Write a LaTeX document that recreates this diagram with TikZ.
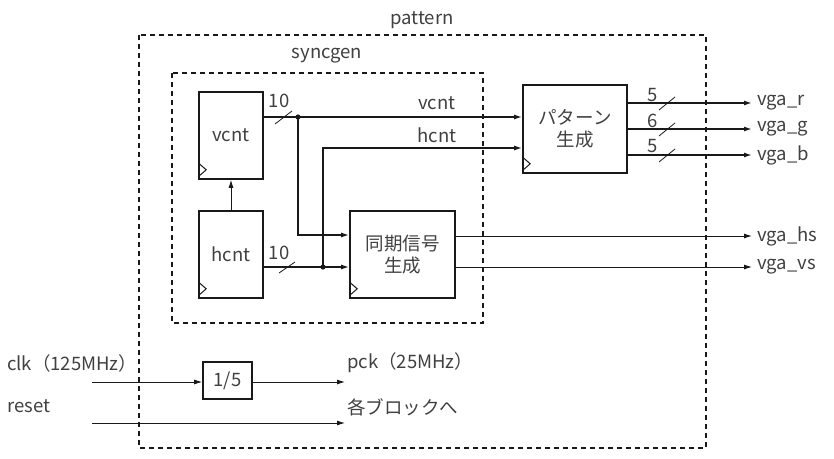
\documentclass[tikz,border=0pt]{standalone}
\usepackage{fontspec}
\setmainfont{Noto Sans CJK JP}
\usetikzlibrary{arrows.meta,calc}
\begin{document}
\begin{tikzpicture}[x=1pt,y=-1pt,
  font=\fontsize{18.5}{22}\selectfont,
  txt/.style={text=black!75,inner sep=0pt},
  blk/.style={draw=black!90,line width=1.6pt,inner sep=0pt,text=black!75,align=center},
  frame/.style={draw=black!90,line width=1.4pt,dash pattern=on 5pt off 4pt},
  bus/.style={draw=black!90,line width=1.5pt},
  sig/.style={draw=black!90,line width=0.9pt},
  arr/.style={-{Latex[length=8pt,width=5pt]}},
  slash/.style={draw=black!90,line width=0.8pt},
  clkmark/.style={draw=black!90,line width=1pt}]
\useasboundingbox (0,0) rectangle (834,458);
% frames
\draw[frame] (139,35) rectangle (706,448);
\draw[frame] (172,73) rectangle (483,323);
\node[txt] (lpattern) at (422,20) {pattern};
\node[txt] (lsyncgen) at (327,56) {syncgen};
% blocks
\node[blk,minimum width=64pt,minimum height=87pt] (vcnt) at (231,135.5) {vcnt};
\node[blk,minimum width=64pt,minimum height=87pt] (hcnt) at (231,254.5) {hcnt};
\node[blk,minimum width=105pt,minimum height=87pt] (sync) at (402.5,254.5) {同期信号\\生成};
\node[blk,minimum width=104pt,minimum height=88pt] (pgen) at (575,129) {パターン\\生成};
\node[blk,minimum width=49pt,minimum height=37pt] (div) at (227.5,380.5) {1/5};
% clock marks
\foreach \b in {vcnt,hcnt,sync,pgen}{
  \draw[clkmark] ($(\b.south west)+(0,-17)$) -- ++(8,7) -- ++(-8,7);
}
% level coordinates
\coordinate (dv) at (298,117);
\coordinate (dh) at (323,267);
\coordinate (ya) at (0,235);
\coordinate (yh) at (0,148);
\coordinate (yr) at (0,103);
\coordinate (yg) at (0,129);
\coordinate (yb) at (0,155);
\coordinate (yhs) at (0,236);
\coordinate (yvs) at (0,267);
\coordinate (xe) at (752,0);
% hcnt -> vcnt
\draw[sig,arr] (hcnt.north) -- (vcnt.south);
% vcnt bus
\draw[bus] (vcnt.east |- dv) -- (dv);
\draw[bus,arr] (dv) -- (pgen.west |- dv);
\draw[bus,arr] (dv) |- (sync.west |- ya);
\fill[black!90] (dv) circle (2.6pt);
% hcnt bus
\draw[bus] (hcnt.east |- dh) -- (dh);
\draw[bus,arr] (dh) -- (sync.west |- dh);
\draw[bus,arr] (dh) |- (pgen.west |- yh);
\fill[black!90] (dh) circle (2.6pt);
% slashes and widths
\draw[slash] (275,124) -- (292,111);
\draw[slash] (279,273) -- (295,262);
\node[txt] (w1) at (279,101) {10};
\node[txt] (w2) at (279,253) {10};
\node[txt] (lvcnt) at (437,103) {vcnt};
\node[txt] (lhcnt) at (437,135) {hcnt};
% pattern outputs
\coordinate (or) at (xe |- yr);
\coordinate (og) at (xe |- yg);
\coordinate (ob) at (xe |- yb);
\draw[bus,arr] (pgen.east |- yr) -- (or);
\draw[bus,arr] (pgen.east |- yg) -- (og);
\draw[bus,arr] (pgen.east |- yb) -- (ob);
\foreach \y in {103,129,155}{\draw[slash] (659,\y+7) -- (675,\y-6);}
\node[txt] (w3) at (653,95) {5};
\node[txt] (w4) at (653,121) {6};
\node[txt] (w5) at (653,146) {5};
\node[txt,anchor=west] (lr) at ([xshift=5pt]or) {vga\_r};
\node[txt,anchor=west] (lg) at ([xshift=5pt]og) {vga\_g};
\node[txt,anchor=west] (lb) at ([xshift=5pt]ob) {vga\_b};
% sync outputs
\coordinate (ohs) at (xe |- yhs);
\coordinate (ovs) at (xe |- yvs);
\draw[sig,arr] (sync.east |- yhs) -- (ohs);
\draw[sig,arr] (sync.east |- yvs) -- (ovs);
\node[txt,anchor=west] (lhs) at ([xshift=5pt]ohs) {vga\_hs};
\node[txt,anchor=west] (lvs) at ([xshift=5pt]ovs) {vga\_vs};
% clock and reset
\coordinate (clkin) at (92,382);
\coordinate (pck) at (345,382);
\coordinate (rstin) at (92,423);
\coordinate (rstout) at (345,423);
\draw[sig,arr] (clkin) -- (div.west |- clkin);
\draw[sig,arr] (div.east |- clkin) -- (pck);
\draw[sig,arr] (rstin) -- (rstout);
\node[txt,anchor=west] (lclk) at (7,363) {clk（125MHz）};
\node[txt,anchor=west] (lrst) at (7,406) {reset};
\node[txt,anchor=west] (lpck) at (347,363) {pck（25MHz）};
\node[txt,anchor=west] (lblk) at (347,407) {各ブロックへ};
\end{tikzpicture}
\end{document}
